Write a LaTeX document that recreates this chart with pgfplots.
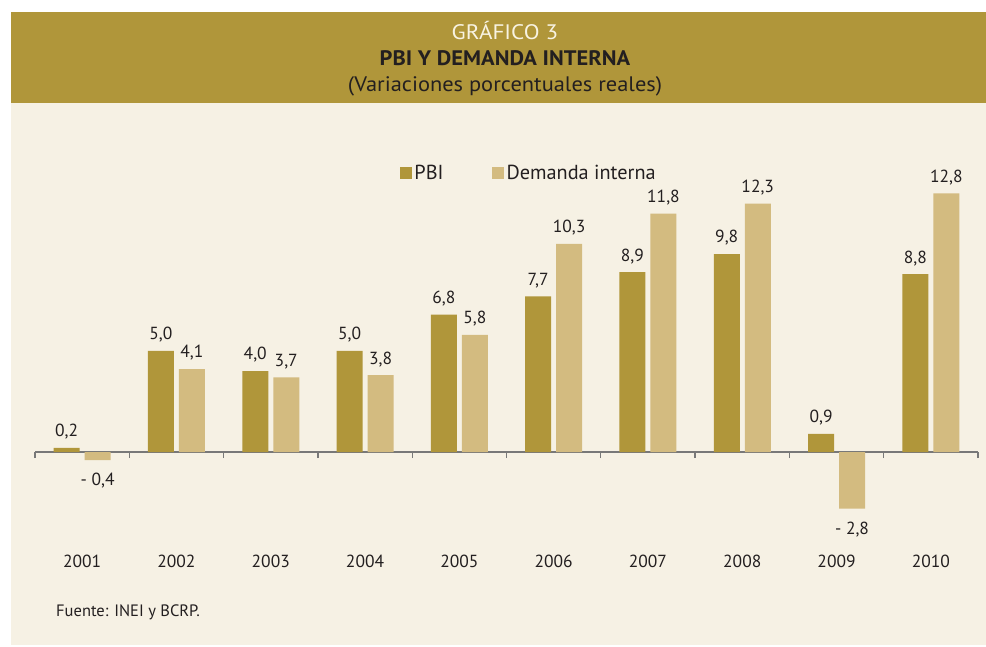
\documentclass[border=0pt]{standalone}
\usepackage{pgfplots}
\usepackage{pgfplotstable}
\usepackage{graphicx}
\pgfplotsset{compat=1.18}
\usepackage{fontspec}
\setmainfont{PT Sans}
\definecolor{pbi}{RGB}{176,150,58}
\definecolor{dem}{RGB}{211,187,128}
\definecolor{bg}{RGB}{246,241,228}
\definecolor{txt}{RGB}{35,31,32}
\definecolor{axgray}{RGB}{120,120,120}
\definecolor{titlelight}{RGB}{248,243,226}

\pgfplotstableread{
x y lab
0 0.2 {0,2}
1 5.0 {5,0}
2 4.0 {4,0}
3 5.0 {5,0}
4 6.8 {6,8}
5 7.7 {7,7}
6 8.9 {8,9}
7 9.8 {9,8}
8 0.9 {0,9}
9 8.8 {8,8}
}\pbitable

\pgfplotstableread{
x y lab
1 4.1 {4,1}
2 3.7 {3,7}
3 3.8 {3,8}
4 5.8 {5,8}
5 10.3 {10,3}
6 11.8 {11,8}
7 12.3 {12,3}
9 12.8 {12,8}
}\demtable

\pgfplotstableread{
x y lab
0 -0.4 {- 0,4}
8 -2.8 {- 2,8}
}\demnegtable

\begin{document}
\begin{tikzpicture}[x=1pt,y=1pt]
\fill[white] (0,0) rectangle (986,646);
\fill[bg] (11,1) rectangle (986,543);
\fill[pbi] (11,543) rectangle (986,634);
\node[anchor=base, inner sep=0pt, text=titlelight, font=\fontsize{21}{24}\selectfont] at (505,606) {\scalebox{1.1}[1]{GRÁFICO 3}};
\node[anchor=base, inner sep=0pt, text=txt, font=\fontsize{21}{24}\selectfont\bfseries] at (505,580) {\scalebox{1.07}[1]{PBI Y DEMANDA INTERNA}};
\node[anchor=base, inner sep=0pt, text=txt, font=\fontsize{21}{24}\selectfont] at (505,554) {\scalebox{1.068}[1]{(Variaciones porcentuales reales)}};
\node[anchor=base west, inner sep=0pt, text=txt, font=\fontsize{16.5}{19}\selectfont] at (56,30) {Fuente: INEI y BCRP.};

\begin{axis}[
  at={(35pt,113.2pt)}, anchor=south west,
  scale only axis, width=943pt, height=363.6pt,
  xmin=-0.5, xmax=9.5, ymin=-4, ymax=14,
  clip=false,
  axis x line=middle, axis y line=none,
  x axis line style={-, draw=axgray, line width=1.3pt},
  xtick={0,...,9},
  xticklabels={2001,2002,2003,2004,2005,2006,2007,2008,2009,2010},
  major tick length=0pt,
  minor xtick={-0.5,0.5,...,9.5},
  minor tick length=6pt,
  xtick align=outside,
  minor tick style={draw=axgray, line width=1.3pt},
  xticklabel style={anchor=base, inner sep=0pt, yshift=-115pt, text=txt, font=\fontsize{17.5}{20}\selectfont},
  ytick=\empty,
  ybar, bar width=26pt,
  point meta=explicit symbolic,
  nodes near coords,
  nodes near coords style={text=txt, font=\fontsize{17.5}{20}\selectfont, inner xsep=0pt, inner ysep=11pt, text depth=0pt},
  sqlegend/.style={legend image code/.code={\fill[##1] (0pt,-6pt) rectangle (12pt,6pt);}},
  legend columns=2,
  legend style={at={(0.387,0.9895)}, anchor=west, draw=none, fill=none, inner sep=0pt, outer sep=0pt,
    font=\fontsize{20.3}{23}\selectfont, text=txt,
    nodes={inner xsep=2.5pt, inner ysep=0pt},
    /tikz/every even column/.append style={column sep=46pt}},
]
\addplot[fill=pbi, draw=none, bar shift=-15.5pt, sqlegend] table[x=x, y=y, meta=lab] {\pbitable};
\addplot[fill=dem, draw=none, bar shift=15.5pt, sqlegend] table[x=x, y=y, meta=lab] {\demtable};
\addplot[fill=dem, draw=none, bar shift=15.5pt, forget plot, nodes near coords align=below, nodes near coords style={inner ysep=13pt}] table[x=x, y=y, meta=lab] {\demnegtable};
\legend{PBI, Demanda interna}
\end{axis}
\end{tikzpicture}
\end{document}
